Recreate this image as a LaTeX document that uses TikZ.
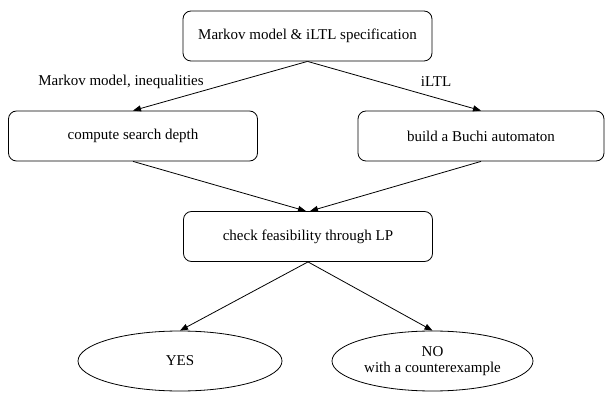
\documentclass[tikz,border=0pt]{standalone}
\usepackage{fontspec}
\setmainfont{Liberation Serif}
\usetikzlibrary{shapes.geometric,arrows.meta}
\tikzset{
  every picture/.style={x=1pt,y=-1pt},
  txt/.style={font=\fontsize{15}{17}\selectfont},
  stepbox/.style={draw,rounded corners=8pt,minimum width=249pt,minimum height=50pt,
    inner sep=0pt,txt,line width=0.8pt},
  result/.style={draw,ellipse,minimum width=204pt,minimum height=60pt,inner sep=0pt,
    align=center,txt,line width=0.8pt},
  flow/.style={line width=0.8pt,-{Stealth[length=8pt,width=6pt,inset=0pt]}}
}
\begin{document}
\begin{tikzpicture}
\useasboundingbox (0,0) rectangle (605,395);
\node[stepbox] (spec) at (307.5,36) {Markov model \& iLTL specification};
\node[stepbox] (depth) at (133,136) {compute search depth};
\node[stepbox,minimum width=246pt] (buchi) at (481,136) {build a Buchi automaton};
\node[stepbox] (lp) at (308,236.5) {check feasibility through LP};
\node[result] (yes) at (180,361) {YES};
\node[result,minimum width=201pt] (no) at (432.5,361) {NO\\[-1pt]with a counterexample};
\draw[flow] (spec.south) -- (depth.north);
\draw[flow] (spec.south) -- (buchi.north);
\draw[flow] (depth.south) -- ([xshift=-2pt]lp.north);
\draw[flow] (buchi.south) -- ([xshift=2pt]lp.north);
\draw[flow] (lp.south) -- (yes.north);
\draw[flow] (lp.south) -- (no.north);
\node[txt] (l1) at (121,82) {Markov model, inequalities};
\node[txt] (l2) at (436,82) {iLTL};
\end{tikzpicture}
\end{document}
